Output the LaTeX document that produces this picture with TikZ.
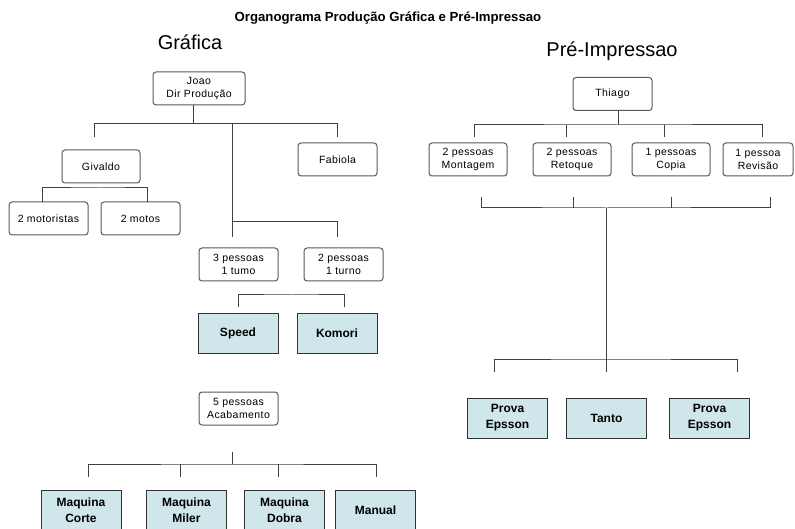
\documentclass[tikz,border=0pt]{standalone}
\usepackage{fontspec}
\setmainfont{Liberation Sans}
\newfontfamily\caixa[LetterSpace=4]{Liberation Sans}
\definecolor{azul}{RGB}{207,230,234}

\begin{document}
\begin{tikzpicture}[x=1pt,y=-1pt,line width=1pt,draw=black!75]
    \tikzstyle{pessoa}=[draw=black!65,rounded corners=3pt,fill=white,minimum width=79pt,minimum height=33pt,inner sep=0pt,align=center,font=\caixa\fontsize{10.5}{12.5}\selectfont]
    \tikzstyle{maquina}=[draw=black!80,fill=azul,minimum width=80pt,minimum height=40pt,inner sep=0pt,align=center,font=\bfseries\fontsize{12}{16}\selectfont]
    \tikzstyle{cabeca}=[anchor=base,font=\fontsize{20}{24}\selectfont]

    \useasboundingbox (0,0) rectangle (795,529);
    \clip (0,0) rectangle (795,529);

    % Titles
    \node[anchor=base,font=\bfseries\fontsize{13.2}{16}\selectfont] (titulo) at (388,22) {Organograma Produção Gráfica e Pré-Impressao};
    \node[cabeca] (graf) at (190,50) {Gráfica};
    \node[cabeca] (pre) at (612,57) {Pré-Impressao};

    % Draw the Gráfica nodes
    \node[pessoa,minimum width=92pt] (J) at (199,88.5) {Joao\\Dir Produção};
    \node[pessoa,minimum width=78pt] (G) at (101,166.5) {Givaldo};
    \node[pessoa] (F) at (337.5,159.5) {Fabiola};
    \node[pessoa] (M1) at (48.5,218.5) {2 motoristas};
    \node[pessoa] (M2) at (140.5,218.5) {2 motos};
    \node[pessoa] (T3) at (238.5,264.5) {3 pessoas\\1 tumo};
    \node[pessoa] (T2) at (343.5,264.5) {2 pessoas\\1 turno};
    \node[maquina,minimum height=39pt] (Sp) at (238,333.5) {Speed};
    \node[maquina,minimum height=39pt] (Ko) at (337,333.5) {Komori};
    \node[pessoa] (Ac) at (238.5,408.5) {5 pessoas\\Acabamento};

    % the machines of the finishing line
    \foreach \name/\x/\txt in {MC/81/{Maquina\\Corte}, MM/186.5/{Maquina\\Miler}, MD/284.5/{Maquina\\Dobra}, Mn/375.5/{Manual}}
        \node[maquina] (\name) at (\x,510) {\txt};

    % Draw the Pré-Impressao nodes
    \node[pessoa] (Th) at (612.5,94) {Thiago};
    \node[pessoa,minimum width=78pt] (Mo) at (468,159.5) {2 pessoas\\Montagem};
    \node[pessoa,minimum width=78pt] (Re) at (572,159.5) {2 pessoas\\Retoque};
    \node[pessoa,minimum width=78pt] (Co) at (671,159.5) {1 pessoas\\Copia};
    \node[pessoa,minimum width=70pt] (Rv) at (758,159.5) {1 pessoa\\Revisão};
    \foreach \name/\x/\txt in {PE1/507.5/{Prova\\Epsson}, Ta/606.5/{Tanto}, PE2/709.5/{Prova\\Epsson}}
        \node[maquina] (\name) at (\x,418) {\txt};

    % Connect Joao with his team
    \coordinate (jb) at (193,124);
    \coordinate (jG) at (94,137);
    \coordinate (jF) at (337,137);
    \coordinate (jC) at (232,222);
    \coordinate (jT3) at (232,237);
    \coordinate (jT2) at (337,237);
    \draw (jb |- J.south) -- (jb);
    \draw (jG) -- (jG |- jb) -- (jF |- jb) -- (jF);
    \draw (jC |- jb) -- (jT3);
    \draw (jC) -| (jT2);

    % Givaldo
    \coordinate (gb) at (101,188);
    \coordinate (gM1) at (42,202);
    \coordinate (gM2) at (147,202);
    \draw (gM1) |- (gb) -| (gM2);

    % Speed and Komori
    \coordinate (sb) at (291,295);
    \coordinate (sS) at (238,307);
    \coordinate (sK) at (344,307);
    \draw (sS) |- (sb) -| (sK);

    % Acabamento
    \coordinate (aT) at (232,452);
    \coordinate (ab) at (232,464);
    \foreach \name/\x in {a1/88,a2/180,a3/278,a4/376}
        \coordinate (\name) at (\x,477);
    \draw (aT) -- (ab);
    \draw (a1) |- (ab) -| (a4);
    \foreach \name in {a2,a3}
        \draw (\name) -- (\name |- ab);

    % Connect Thiago with the four teams
    \coordinate (tb) at (618,125);
    \foreach \name/\x in {t1/474,t2/566,t3/664,t4/762}
        \coordinate (\name) at (\x,137);
    \draw (tb |- Th.south) -- (tb);
    \draw (t1) |- (tb) -| (t4);
    \foreach \name in {t2,t3}
        \draw (\name) -- (\name |- tb);

    % teams down to the proofs
    \coordinate (ub) at (606,208);
    \foreach \name/\x in {u1/481,u2/573,u3/671,u4/770}
        \coordinate (\name) at (\x,197);
    \draw (u1) |- (ub) -| (u4);
    \foreach \name in {u2,u3}
        \draw (\name) -- (\name |- ub);
    \coordinate (pb) at (606,359);
    \foreach \name/\x in {p1/494,p2/606,p3/737}
        \coordinate (\name) at (\x,372);
    \draw (ub) -- (pb);
    \draw (p1) |- (pb) -| (p3);
    \draw (pb) -- (p2);
\end{tikzpicture}
\end{document}
